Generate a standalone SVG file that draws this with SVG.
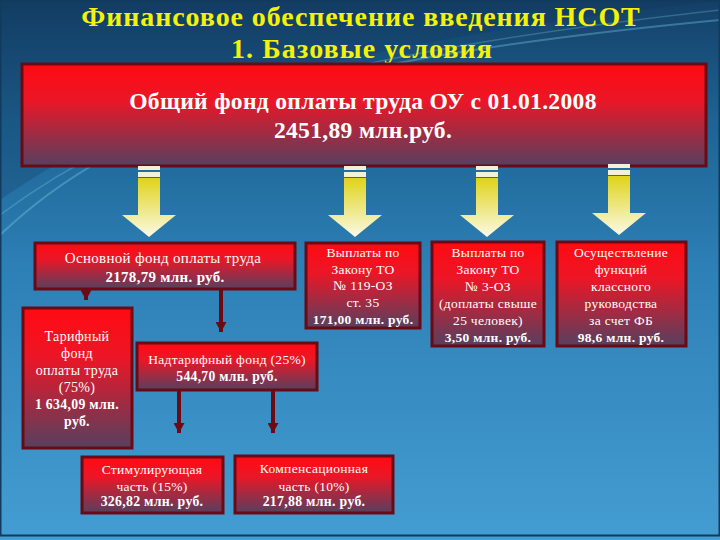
<svg xmlns="http://www.w3.org/2000/svg" width="720" height="540" viewBox="0 0 720 540" font-family="Liberation Serif, Times New Roman, DejaVu Serif, serif">
  <defs>
    <linearGradient id="bg" x1="0" y1="0" x2="0" y2="1">
      <stop offset="0" stop-color="#143f66"/>
      <stop offset="0.22" stop-color="#1d6393"/>
      <stop offset="0.5" stop-color="#2d80b6"/>
      <stop offset="1" stop-color="#449dd2"/>
    </linearGradient>
    <linearGradient id="boxg" x1="0" y1="0" x2="0" y2="1">
      <stop offset="0" stop-color="#ff0a12"/>
      <stop offset="0.35" stop-color="#ec1626"/>
      <stop offset="1" stop-color="#56405f"/>
    </linearGradient>
    <linearGradient id="arrg" x1="0" y1="0" x2="0" y2="1">
      <stop offset="0" stop-color="#e0d31a"/>
      <stop offset="1" stop-color="#fbfae6"/>
    </linearGradient>
    <g id="bigArrow">
      <rect x="-11" y="166" width="22" height="4" fill="#f3f0d6"/>
      <rect x="-11" y="172" width="22" height="5" fill="#f3f0d6"/>
      <path d="M-11,178 H11 V215 H27 L0,237 L-27,215 H-11 Z" fill="url(#arrg)"/>
    </g>
    <marker id="ah" markerUnits="userSpaceOnUse" markerWidth="10" markerHeight="11" refX="10" refY="5.5" orient="auto" viewBox="0 0 10 11">
      <path d="M0,0 L10,5.5 L0,11 Z" fill="#6e0a14"/>
    </marker>
    <style>
      .box { fill: url(#boxg); stroke: #6b0a14; stroke-width: 3; }
      .t { fill: #ffffff; text-anchor: middle; letter-spacing: 0.3px; }
      .s { font-size: 13.5px; }
      .b { font-weight: bold; }
      .title { font-weight: bold; fill: #f4f20a; text-anchor: middle; font-size: 28px; }
      .conn { stroke: #6e0a14; stroke-width: 4; fill: none; }
    </style>
  </defs>

  <rect x="0" y="0" width="720" height="540" fill="url(#bg)"/>
  <path d="M0,235 C120,120 300,60 720,20" fill="none" stroke="#7fd0e8" stroke-opacity="0.35" stroke-width="2"/>
  <path d="M0,215 C140,110 320,55 720,10" fill="none" stroke="#8fdcf0" stroke-opacity="0.25" stroke-width="1.5"/>
  <path d="M0,200 C150,95 340,45 720,0 L0,0 Z" fill="#0e3558" fill-opacity="0.25"/>
  <rect x="0.5" y="0.5" width="719" height="535" fill="none" stroke="#123a5c" stroke-width="2"/>

  <g id="title">
    <text class="title" x="361" y="26" letter-spacing="0.9">Финансовое обеспечение введения НСОТ</text>
    <text class="title" x="362" y="58" letter-spacing="1.1">1. Базовые условия</text>
  </g>

  <g id="total">
    <rect class="box" x="22" y="64" width="684" height="102"/>
    <text class="t b" x="363" y="109" font-size="23.6" letter-spacing="0">Общий фонд оплаты труда ОУ с 01.01.2008</text>
    <text class="t b" x="363" y="138" font-size="23.6" letter-spacing="0">2451,89 млн.руб.</text>
  </g>

  <g id="big-arrows">
    <use href="#bigArrow" x="149"/>
    <use href="#bigArrow" x="355"/>
    <use href="#bigArrow" x="487"/>
    <use href="#bigArrow" x="619" y="-2"/>
  </g>

  <g id="osnovnoy">
    <rect class="box" x="35" y="243" width="260" height="46"/>
    <text class="t" x="163" y="263" font-size="15" letter-spacing="0.9">Основной фонд оплаты труда</text>
    <text class="t b" x="165" y="282" font-size="15">2178,79 млн. руб.</text>
  </g>

  <g id="zakon119">
    <rect class="box" x="306" y="243" width="114" height="85"/>
    <text class="t s" x="363" y="257">Выплаты по</text>
    <text class="t s" x="363" y="274">Закону ТО</text>
    <text class="t s" x="363" y="290">№ 119-ОЗ</text>
    <text class="t s" x="363" y="307">ст. 35</text>
    <text class="t s b" x="363" y="324">171,00 млн. руб.</text>
  </g>

  <g id="zakon3">
    <rect class="box" x="432" y="242" width="112" height="104"/>
    <text class="t s" x="488" y="257">Выплаты по</text>
    <text class="t s" x="488" y="274">Закону ТО</text>
    <text class="t s" x="488" y="291">№ 3-ОЗ</text>
    <text class="t s" x="488" y="308">(доплаты свыше</text>
    <text class="t s" x="488" y="325">25 человек)</text>
    <text class="t s b" x="488" y="342">3,50 млн. руб.</text>
  </g>

  <g id="klassnoe">
    <rect class="box" x="557" y="242" width="129" height="104"/>
    <text class="t s" x="621" y="257">Осуществление</text>
    <text class="t s" x="621" y="274">функций</text>
    <text class="t s" x="621" y="291">классного</text>
    <text class="t s" x="621" y="308">руководства</text>
    <text class="t s" x="621" y="325">за счет ФБ</text>
    <text class="t s b" x="621" y="342">98,6 млн. руб.</text>
  </g>

  <g id="tarifny">
    <rect class="box" x="23" y="308" width="109" height="140"/>
    <text class="t" x="77" y="341" font-size="14">Тарифный</text>
    <text class="t" x="77" y="358" font-size="14">фонд</text>
    <text class="t" x="77" y="375" font-size="14">оплаты труда</text>
    <text class="t" x="77" y="392" font-size="14">(75%)</text>
    <text class="t b" x="77" y="409" font-size="13.8">1 634,09 млн.</text>
    <text class="t b" x="77" y="426" font-size="13.8">руб.</text>
  </g>

  <g id="nadtarifny">
    <rect class="box" x="137" y="343" width="180" height="47"/>
    <text class="t" x="227" y="364" font-size="13.5" letter-spacing="0.5">Надтарифный фонд (25%)</text>
    <text class="t b" x="227" y="381" font-size="13.6">544,70 млн. руб.</text>
  </g>

  <g id="stimul">
    <rect class="box" x="82" y="457" width="141" height="56"/>
    <text class="t" x="152" y="474" font-size="13.5" letter-spacing="0.7">Стимулирующая</text>
    <text class="t" x="152" y="491" font-size="13.5">часть (15%)</text>
    <text class="t b" x="152" y="506" font-size="13.8">326,82 млн. руб.</text>
  </g>

  <g id="kompens">
    <rect class="box" x="235" y="456" width="158" height="57"/>
    <text class="t" x="314" y="473" font-size="13.5" letter-spacing="0.6">Компенсационная</text>
    <text class="t" x="314" y="491" font-size="13.5">часть (10%)</text>
    <text class="t b" x="314" y="506" font-size="13.8">217,88 млн. руб.</text>
  </g>

  <g id="connectors">
    <path class="conn" d="M86,290 V300" marker-end="url(#ah)"/>
    <path class="conn" d="M221,290 V332" marker-end="url(#ah)"/>
    <path class="conn" d="M179,391 V433" marker-end="url(#ah)"/>
    <path class="conn" d="M273,391 V433" marker-end="url(#ah)"/>
  </g>
</svg>
